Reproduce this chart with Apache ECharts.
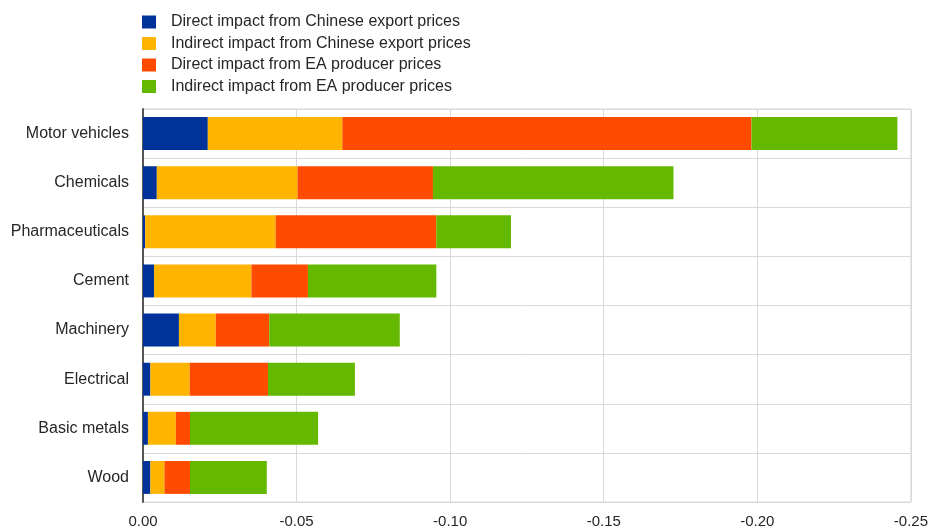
<!DOCTYPE html>
<html><head><meta charset="utf-8">
<script src="https://cdn.jsdelivr.net/npm/echarts@6/dist/echarts.min.js"></script>
<style>html,body{margin:0;padding:0;background:#fff}#c{width:931px;height:529px}</style>
</head><body><div id="c"></div>
<script>
const categories = ["Motor vehicles","Chemicals","Pharmaceuticals","Cement","Machinery","Electrical","Basic metals","Wood"];
const seriesNames = ["Direct impact from Chinese export prices","Indirect impact from Chinese export prices","Direct impact from EA producer prices","Indirect impact from EA producer prices"];
const directChina   = [-0.0211,-0.0045,-0.0007,-0.0036,-0.0117,-0.0024,-0.0016,-0.0024];
const indirectChina = [-0.0438,-0.0458,-0.0425,-0.0317,-0.0120,-0.0128,-0.0091,-0.0046];
const directEA      = [-0.1332,-0.0441,-0.0523,-0.0184,-0.0174,-0.0255,-0.0046,-0.0083];
const indirectEA    = [-0.0475,-0.0783,-0.0243,-0.0418,-0.0425,-0.0283,-0.0417,-0.0250];
const xTicks = [0,-0.05,-0.10,-0.15,-0.20,-0.25];
const colors = ["#003299","#FFB400","#FF4B00","#65B800"];

const font = "Arial, 'Liberation Sans', sans-serif";
const dataSets = [directChina, indirectChina, directEA, indirectEA];
const chart = echarts.init(document.getElementById('c'));
chart.setOption({
  animation:false,
  color:colors,
  legend:{
    orient:'vertical', left:142, top:14, itemWidth:14, itemHeight:13, itemGap:5.5,
    padding:0,
    icon:'rect',
    textStyle:{fontFamily:font,fontSize:16,lineHeight:16,color:'#262626',padding:[0,0,0,10]},
    data:seriesNames
  },
  grid:{left:143, top:109, right:17, bottom:27, show:true, borderColor:'#d9d9d9', borderWidth:1, containLabel:false},
  xAxis:{
    type:'value', min:-0.25, max:0, interval:0.05, inverse:true,
    axisLine:{show:false}, axisTick:{show:false},
    splitLine:{show:true,lineStyle:{color:'#d9d9d9',width:1}},
    axisLabel:{fontFamily:font,fontSize:15,color:'#262626',margin:12,
      formatter:v=>{const t=xTicks.find(x=>Math.abs(x-v)<1e-9); return (t===undefined?v:t).toFixed(2);}}
  },
  yAxis:{
    type:'category', data:categories, inverse:true,
    axisLine:{show:true,lineStyle:{color:'#555',width:2}},
    axisTick:{show:false},
    splitLine:{show:true,lineStyle:{color:'#d9d9d9',width:1}},
    axisLabel:{fontFamily:font,fontSize:16,color:'#262626',margin:14}
  },
  series:dataSets.map((d,i)=>({
    name:seriesNames[i], type:'bar', stack:'total', data:d, barWidth:'67%',
    itemStyle:{color:colors[i]}
  }))
});
</script></body></html>
